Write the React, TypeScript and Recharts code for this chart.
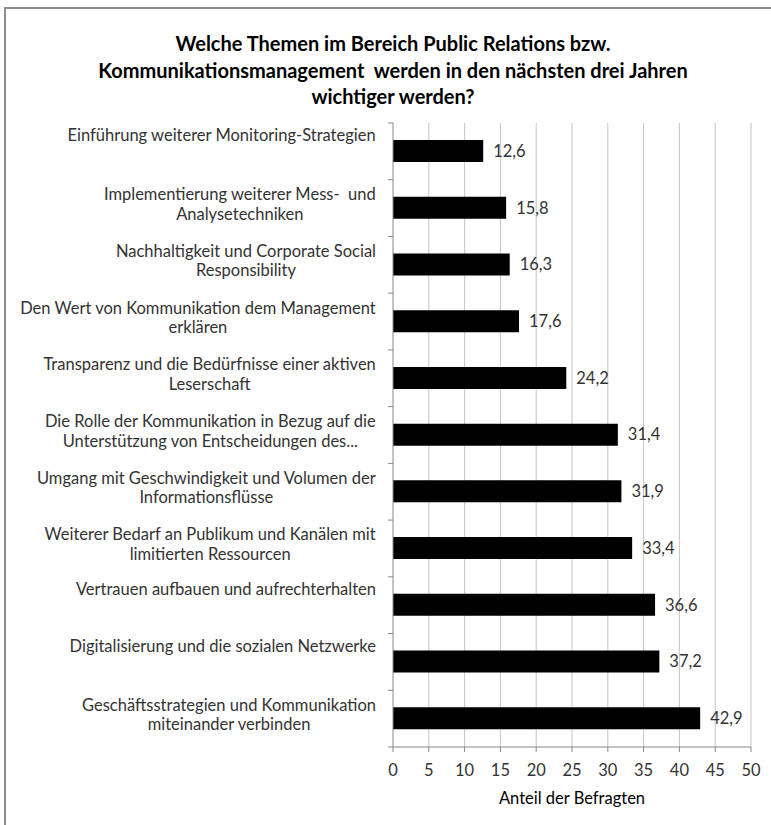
import React from 'react';
import {
  BarChart,
  Bar,
  XAxis,
  YAxis,
  CartesianGrid,
  LabelList,
  Label
} from 'recharts';

const categories = [
  'Einführung weiterer Monitoring-Strategien',
  'Implementierung weiterer Mess-  und\nAnalysetechniken',
  'Nachhaltigkeit und Corporate Social\nResponsibility',
  'Den Wert von Kommunikation dem Management\nerklären',
  'Transparenz und die Bedürfnisse einer aktiven\nLeserschaft',
  'Die Rolle der Kommunikation in Bezug auf die\nUnterstützung von Entscheidungen des...',
  'Umgang mit Geschwindigkeit und Volumen der\nInformationsflüsse',
  'Weiterer Bedarf an Publikum und Kanälen mit\nlimitierten Ressourcen',
  'Vertrauen aufbauen und aufrechterhalten',
  'Digitalisierung und die sozialen Netzwerke',
  'Geschäftsstrategien und Kommunikation\nmiteinander verbinden',
];

const values = [12.6, 15.8, 16.3, 17.6, 24.2, 31.4, 31.9, 33.4, 36.6, 37.2, 42.9];

const xTicks = [0, 5, 10, 15, 20, 25, 30, 35, 40, 45, 50];

const titleLines = [
  'Welche Themen im Bereich Public Relations bzw.',
  'Kommunikationsmanagement  werden in den nächsten drei Jahren',
  'wichtiger werden?',
];

const data = categories.map((name, i) => ({ name, value: values[i] }));

const FONT = 'Lato, "Open Sans", sans-serif';
const FS = 16.5;
const TEXT = '#333333';
const AXIS = '#868686';

let ctx: CanvasRenderingContext2D | null = null;
const measure = (s: string) => {
  if (!ctx) {
    ctx = document.createElement('canvas').getContext('2d');
  }
  if (!ctx) return s.length * 8;
  ctx.font = `${FS}px Lato`;
  return ctx.measureText(s).width;
};

// Excel style: lines centred on each other, block right-aligned to the axis
const CategoryTick = (props: any) => {
  const { x, y, payload, index, visibleTicksCount } = props;
  const half = payload.offset || 28.3;
  const lines: string[] = String(payload.value).split('\n');
  const widths = lines.map(measure);
  const maxW = Math.max(...widths);
  const right = x - 17;
  const cx = right - maxW / 2;
  const firstY = lines.length === 1 ? y - 16 : y - 14;
  const last = index === visibleTicksCount - 1;
  return (
    <g>
      <line x1={x - 5} x2={x} y1={y - half} y2={y - half} stroke={AXIS} />
      {last && <line x1={x - 5} x2={x} y1={y + half} y2={y + half} stroke={AXIS} />}
      {lines.map((l, i) => (
        <text
          key={i}
          x={cx}
          y={firstY + i * 19.5}
          textAnchor="middle"
          dominantBaseline="central"
          fontFamily={FONT}
          fontSize={FS}
          fill={TEXT}
          style={{ whiteSpace: 'pre' }}
        >
          {l}
        </text>
      ))}
    </g>
  );
};

export default function App() {
  return (
    <div
      style={{
        position: 'absolute',
        left: 0,
        top: 0,
        width: 771,
        height: 825,
        overflow: 'hidden',
        background: '#fff',
      }}
    >
      <div
        style={{
          position: 'absolute',
          left: 4,
          top: 7,
          width: 900,
          height: 900,
          borderTop: '2px solid #8c8c8c',
          borderLeft: '2px solid #8c8c8c',
        }}
      />
      <div
        style={{
          position: 'absolute',
          left: 0,
          top: 30,
          width: 786,
          textAlign: 'center',
          fontFamily: FONT,
          fontWeight: 700,
          fontSize: 20,
          lineHeight: '26.5px',
          color: '#000',
          whiteSpace: 'pre',
        }}
      >
        {titleLines.map((t, i) => (
          <div key={i}>{t}</div>
        ))}
      </div>
      <div style={{ position: 'absolute', left: 0, top: 0 }}>
        <BarChart
          width={771}
          height={825}
          data={data}
          layout="vertical"
          margin={{ top: 123, right: 20, bottom: 0, left: 0 }}
        >
          <CartesianGrid horizontal={false} stroke="#c4c4c4" verticalValues={xTicks.slice(1)} />
          <XAxis
            type="number"
            domain={[0, 50]}
            ticks={xTicks}
            interval={0}
            height={78}
            stroke={AXIS}
            tickSize={5}
            tickMargin={12}
            tick={{ fill: TEXT, fontSize: FS, fontFamily: FONT }}
          >
            <Label
              value="Anteil der Befragten"
              position="insideBottom"
              offset={21}
              fill="#000"
              fontSize={FS}
              fontFamily={FONT}
            />
          </XAxis>
          <YAxis
            type="category"
            dataKey="name"
            width={393}
            stroke={AXIS}
            tickLine={false}
            tickSize={0}
            tickMargin={0}
            interval={0}
            tick={<CategoryTick />}
          />
          <Bar dataKey="value" fill="#000" barSize={22} isAnimationActive={false}>
            <LabelList
              dataKey="value"
              position="right"
              offset={10}
              formatter={(v: any) => Number(v).toFixed(1).replace('.', ',')}
              fill={TEXT}
              fontSize={FS}
              fontFamily={FONT}
            />
          </Bar>
        </BarChart>
      </div>
    </div>
  );
}
